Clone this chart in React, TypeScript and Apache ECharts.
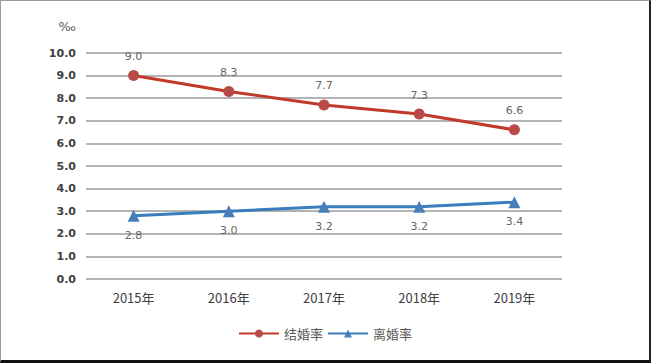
import React, { useEffect, useRef } from "react";
import * as echarts from "echarts";

const categories = ["2015年", "2016年", "2017年", "2018年", "2019年"];
const marriageRate = [9.0, 8.3, 7.7, 7.3, 6.6];
const divorceRate = [2.8, 3.0, 3.2, 3.2, 3.4];
const seriesNames = ["结婚率", "离婚率"];

export default function App() {
  const ref = useRef<HTMLDivElement>(null);
  useEffect(() => {
    document.body.style.margin = "0";
    const chart = echarts.init(ref.current!, null, { renderer: "svg" });
    const font = "'Noto Sans CJK SC', 'Noto Sans', sans-serif";
    chart.setOption({
      animation: false,
      backgroundColor: "#ffffff",
      textStyle: { fontFamily: font },
      grid: { left: 85, right: 87, top: 52, bottom: 81 },
      legend: {
        bottom: 15,
        left: "center",
        itemWidth: 40,
        itemHeight: 10,
        itemGap: 4,
        textStyle: { color: "#595959", fontSize: 13, fontFamily: font },
        data: seriesNames,
      },
      xAxis: {
        type: "category",
        data: categories,
        boundaryGap: true,
        axisLine: { show: false },
        axisTick: { show: false },
        axisLabel: { color: "#404040", fontSize: 13, margin: 12, fontFamily: font },
      },
      yAxis: {
        type: "value",
        name: "‰",
        nameLocation: "end",
        nameGap: 20,
        nameTextStyle: {
          color: "#595959",
          fontSize: 13,
          align: "right",
          padding: [0, 10, 0, 0],
          fontFamily: "'DejaVu Sans', sans-serif",
        },
        min: 0,
        max: 10,
        interval: 1,
        axisLine: { show: false },
        axisTick: { show: false },
        axisLabel: {
          color: "#404040",
          fontSize: 11,
          fontWeight: "bold",
          margin: 10,
          formatter: (v: number) => v.toFixed(1),
          fontFamily: "'DejaVu Sans', sans-serif",
        },
        splitLine: { lineStyle: { color: "#9a9a9a", width: 1.5 } },
      },
      series: [
        {
          name: seriesNames[0],
          type: "line",
          data: marriageRate,
          color: "#C0504D",
          lineStyle: { color: "#C0392B", width: 3 },
          itemStyle: { color: "#B94A48" },
          symbol: "circle",
          symbolSize: 11,
          label: {
            show: true,
            position: "top",
            distance: 8,
            color: "#666666",
            fontSize: 11,
            fontFamily: "'DejaVu Sans', sans-serif",
            formatter: (p: any) => Number(p.value).toFixed(1),
          },
        },
        {
          name: seriesNames[1],
          type: "line",
          data: divorceRate,
          color: "#4F81BD",
          lineStyle: { color: "#3A7DBE", width: 3 },
          itemStyle: { color: "#4A7EBB" },
          symbol: "triangle",
          symbolSize: 12,
          label: {
            show: true,
            position: "bottom",
            distance: 8,
            color: "#666666",
            fontSize: 11,
            fontFamily: "'DejaVu Sans', sans-serif",
            formatter: (p: any) => Number(p.value).toFixed(1),
          },
        },
      ],
    });
    return () => chart.dispose();
  }, []);
  return (
    <div
      style={{
        position: "relative",
        width: 651,
        height: 363,
        boxSizing: "border-box",
        borderTop: "1px solid #9a9a9a",
        borderLeft: "1px solid #9a9a9a",
        borderRight: "2px solid #222",
        borderBottom: "3px solid #111",
      }}
    >
      <div ref={ref} style={{ width: 648, height: 359 }} />
    </div>
  );
}
